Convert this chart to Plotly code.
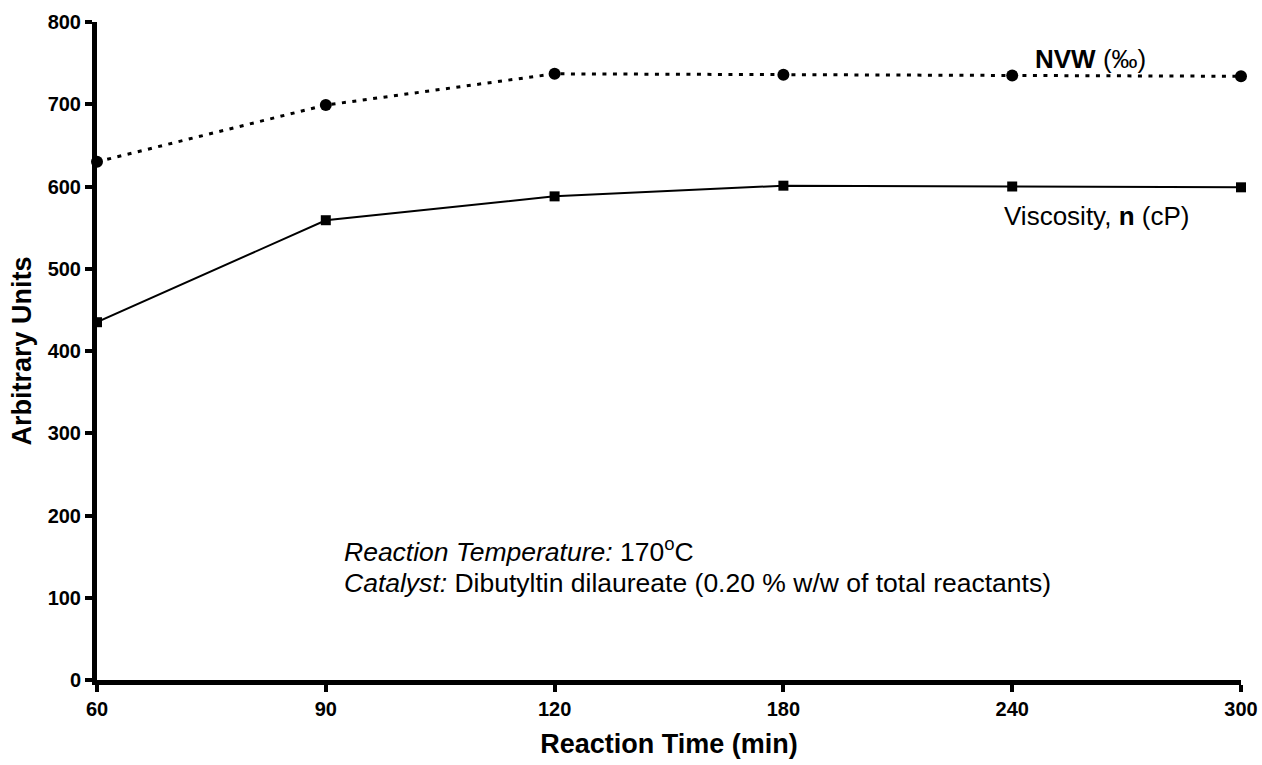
import plotly.graph_objects as go

reaction_time = ["60", "90", "120", "180", "240", "300"]
nvw = [630, 699, 737, 736, 735, 734]
viscosity = [435, 559, 588, 601, 600, 599]
y_ticks = [0, 100, 200, 300, 400, 500, 600, 700, 800]

FONT = "Liberation Sans, Arial, sans-serif"

fig = go.Figure()
fig.add_trace(go.Scatter(
    x=reaction_time, y=nvw, mode="lines+markers",
    line=dict(color="black", width=3, dash="4px,6.5px"),
    marker=dict(symbol="circle", size=12, color="black"),
    cliponaxis=False, showlegend=False, name="NVW (‰)"))
fig.add_trace(go.Scatter(
    x=reaction_time, y=viscosity, mode="lines+markers",
    line=dict(color="black", width=2),
    marker=dict(symbol="square", size=10, color="black"),
    cliponaxis=False, showlegend=False, name="Viscosity (cP)"))

fig.update_layout(
    width=1262, height=765,
    margin=dict(l=97, r=21, t=22, b=85, autoexpand=False),
    paper_bgcolor="white", plot_bgcolor="white",
    font=dict(family=FONT, color="black"),
    xaxis=dict(
        type="category", range=[0, 5], showgrid=False, zeroline=False,
        showline=True, linecolor="black", linewidth=5, automargin=False,
        ticks="outside", ticklen=7, tickwidth=4, tickcolor="black",
        tickfont=dict(size=20, family=FONT, weight="bold"),
        title=dict(text="<b>Reaction Time (min)</b>", font=dict(size=27, family=FONT), standoff=17),
    ),
    yaxis=dict(
        range=[0, 800], tickvals=y_ticks, showgrid=False, zeroline=False,
        showline=True, linecolor="black", linewidth=5, automargin=False,
        ticks="outside", ticklen=7, tickwidth=4, tickcolor="black",
        tickfont=dict(size=20, family=FONT, weight="bold"),
        title=dict(text="<b>Arbitrary Units</b>", font=dict(size=27, family=FONT), standoff=10),
    ),
)

fig.add_annotation(xref="paper", yref="paper", x=0.818, y=0.944, xanchor="left", yanchor="middle",
                   text="<b>NVW</b> (‰)", showarrow=False, font=dict(size=26, family=FONT))
fig.add_annotation(xref="paper", yref="paper", x=0.791, y=0.705, xanchor="left", yanchor="middle",
                   text="Viscosity, <b>n</b> (cP)", showarrow=False, font=dict(size=26, family=FONT))
fig.add_annotation(xref="paper", yref="paper", x=0.214, y=0.198, xanchor="left", yanchor="middle",
                   text="<i>Reaction Temperature:</i> 170<sup>o</sup>C", showarrow=False,
                   font=dict(size=26.5, family=FONT))
fig.add_annotation(xref="paper", yref="paper", x=0.214, y=0.147, xanchor="left", yanchor="middle",
                   text="<i>Catalyst:</i> Dibutyltin dilaureate (0.20 % w/w of total reactants)",
                   showarrow=False, font=dict(size=26.5, family=FONT))

fig.write_html("out.html")
